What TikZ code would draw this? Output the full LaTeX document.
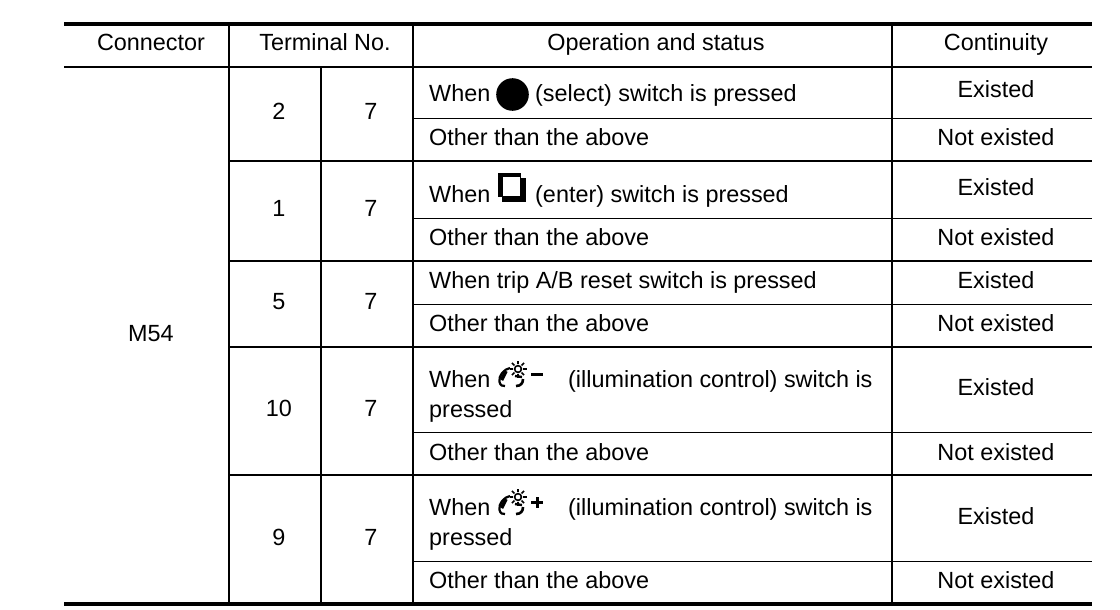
\documentclass[tikz,border=0pt]{standalone}
\usepackage{fontspec}
\setmainfont{Liberation Sans}
\tikzset{
	celltext/.style={anchor=base,inner sep=0pt,font=\fontsize{23.4}{28}\selectfont},
	optext/.style={anchor=base west,inner sep=0pt,font=\fontsize{23.4}{28}\selectfont},
	rule/.style={line width=1.5pt},
	thinrule/.style={line width=1pt},
	thickrule/.style={line width=4pt},
	lampicon/.pic={
		\draw[line width=1.6pt] (0,0) circle (3.4);
		\foreach \a in {0,45,...,315}
			\draw[line width=1.7pt] (\a:5) -- (\a:8.5);
		\draw[line width=2.2pt] (-8,-1) .. controls (-14,0) and (-20,7) .. (-18.5,13) .. controls (-18,16) and (-15,18) .. (-13,17);
		\draw[line width=3.6pt] (-12,2) -- (-16.5,11);
		\draw[line width=2.4pt] (-3,7) -- (4,8);
		\draw[line width=2.6pt] (5,10) .. controls (5,14) and (3,17) .. (-2,17);
	}
}
\begin{document}
\begin{tikzpicture}[x=1pt,y=-1pt]
	\useasboundingbox (0,0) rectangle (1120,610);
	% outer rules
	\draw[thickrule] (64,24)--(1092,24);
	\draw[thickrule] (64,604)--(1092,604);
	\draw[rule] (64,67)--(1092,67);
	% vertical rules
	\draw[rule] (229,24)--(229,604);
	\draw[rule] (413,24)--(413,604);
	\draw[rule] (892,24)--(892,604);
	\draw[rule] (321,67)--(321,604);
	% rows
	\foreach \y in {161,261,347,475}
		\draw[rule] (229,\y)--(1092,\y);
	\foreach \y in {118,218,304,432,561}
		\draw[thinrule] (413,\y)--(1092,\y);
	% header
	\node[celltext] (connector) at (151,51) {Connector};
	\node[celltext] (terminal) at (325,51) {Terminal No.};
	\node[celltext] (operation) at (656,51) {Operation and status};
	\node[celltext] (continuity) at (996,51) {Continuity};
	\node[celltext] (m54) at (151,341) {M54};
	% terminals
	\node[celltext] (a2) at (279,119) {2};
	\node[celltext] (b2) at (371,119) {7};
	\node[celltext] (a1) at (279,216) {1};
	\node[celltext] (b1) at (371,216) {7};
	\node[celltext] (a5) at (279,309) {5};
	\node[celltext] (b5) at (371,309) {7};
	\node[celltext] (a10) at (279,416) {10};
	\node[celltext] (b10) at (371,416) {7};
	\node[celltext] (a9) at (279,545) {9};
	\node[celltext] (b9) at (371,545) {7};
	% operation and status
	\node[optext] (select) at (429,102) {When};
	\node[optext] (selecttext) at (535,102) {(select) switch is pressed};
	\fill (512.5,94.5) circle (16.3);
	\node[optext] (other1) at (429,145) {Other than the above};
	\node[optext] (enter) at (429,202) {When};
	\node[optext] (entertext) at (535,202) {(enter) switch is pressed};
	\fill (502,178) rectangle (526,202);
	\fill (498,172.5) rectangle (521,197);
	\fill[white] (502.5,177) rectangle (520,195.5);
	\node[optext] (other2) at (429,245) {Other than the above};
	\node[optext] (reset) at (429,288) {When trip A/B reset switch is pressed};
	\node[optext] (other3) at (429,331) {Other than the above};
	\node[optext] (minus) at (429,387) {When};
	\node[optext] (minustext) at (568,387) {(illumination control) switch is};
	\node[optext] (minuspressed) at (429,417) {pressed};
	\pic at (518,369) {lampicon};
	\draw[line width=3pt] (531,374.5)--(543,374.5);
	\node[optext] (other4) at (429,460) {Other than the above};
	\node[optext] (plus) at (429,515) {When};
	\node[optext] (plustext) at (568,515) {(illumination control) switch is};
	\node[optext] (pluspressed) at (429,545) {pressed};
	\pic at (518,497) {lampicon};
	\draw[line width=3pt] (531,502.5)--(543,502.5) (537,497)--(537,508);
	\node[optext] (other5) at (429,588) {Other than the above};
	% continuity
	\node[celltext] (c1) at (996,98) {Existed};
	\node[celltext] (c2) at (996,145) {Not existed};
	\node[celltext] (c3) at (996,195) {Existed};
	\node[celltext] (c4) at (996,245) {Not existed};
	\node[celltext] (c5) at (996,288) {Existed};
	\node[celltext] (c6) at (996,331) {Not existed};
	\node[celltext] (c7) at (996,395) {Existed};
	\node[celltext] (c8) at (996,460) {Not existed};
	\node[celltext] (c9) at (996,524) {Existed};
	\node[celltext] (c10) at (996,588) {Not existed};
\end{tikzpicture}
\end{document}
